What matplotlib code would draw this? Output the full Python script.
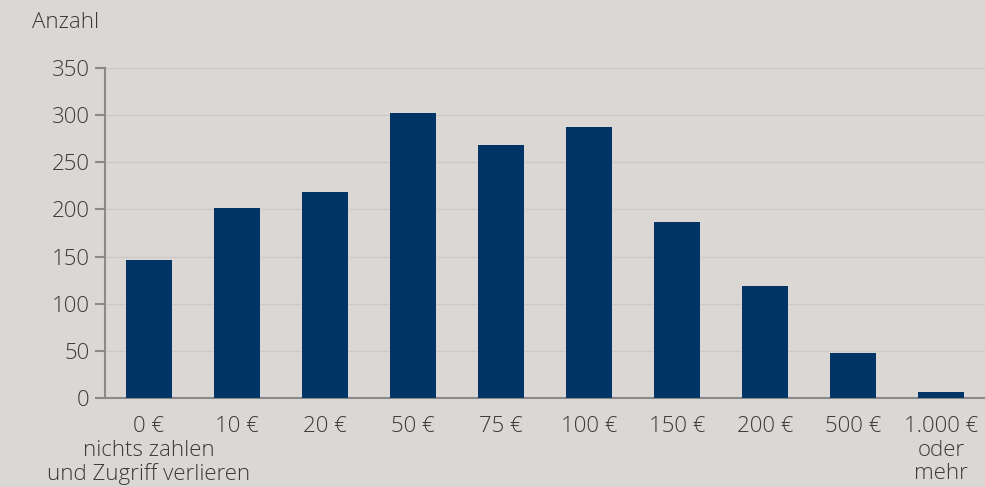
import matplotlib.pyplot as plt

plt.rcParams['font.family'] = ['Open Sans', 'DejaVu Sans']

# Werte
labels = ['0 €\nnichts zahlen\nund Zugriff verlieren', '10 €', '20 €', '50 €', '75 €',
          '100 €', '150 €', '200 €', '500 €', '1.000 €\noder\nmehr']
counts = [146, 202, 218, 302, 268, 287, 187, 119, 48, 6]

bg = '#dad7d4'
txt = '#3a3a3a'

fig = plt.figure(figsize=(9.85, 4.87), dpi=100, facecolor=bg)
ax = fig.add_axes([0.1066, 0.1828, 0.8934, 0.6776], facecolor=bg)

x = range(len(counts))
ax.bar(x, counts, width=0.52, color='#003366', zorder=3)

ax.set_xlim(-0.5, 9.5)
ax.set_ylim(0, 350)
ax.set_yticks(range(0, 351, 50))
ax.set_xticks(list(x))
ax.set_xticklabels(labels, linespacing=1.16)

ax.grid(axis='y', color='#cdc9c6', linewidth=1, zorder=0)
for s in ['top', 'right']:
    ax.spines[s].set_visible(False)
ax.spines['left'].set_color('#8a8a8a')
ax.spines['bottom'].set_color('#8a8a8a')
ax.spines['left'].set_linewidth(1.5)
ax.spines['bottom'].set_linewidth(1.5)

ax.tick_params(axis='y', colors='#8a8a8a', labelcolor=txt, labelsize=16,
               length=7, width=1.5, pad=4)
ax.tick_params(axis='x', length=0, labelcolor=txt, labelsize=16, pad=13)
for lab in ax.get_xticklabels() + ax.get_yticklabels():
    lab.set_fontweight('light')

fig.text(32 / 985, 1 - 22 / 487, 'Anzahl', color=txt, fontsize=16,
         fontweight='light', va='center', ha='left')

fig.savefig('out.png', dpi=100, facecolor=bg)
